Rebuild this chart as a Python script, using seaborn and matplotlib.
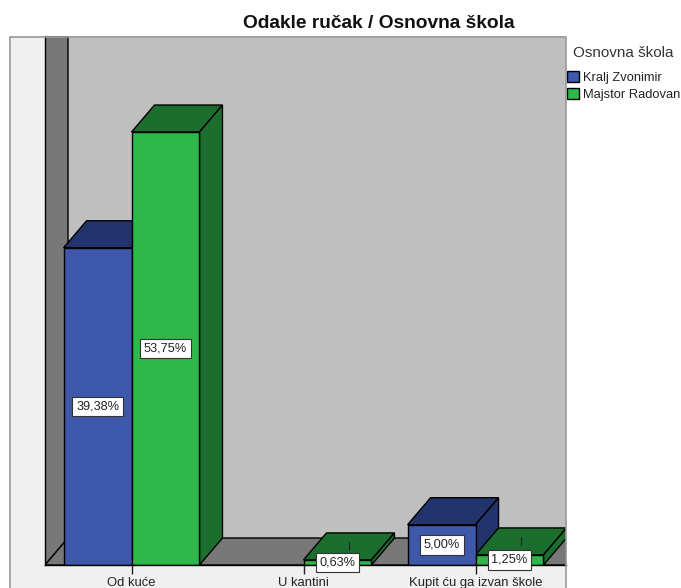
import matplotlib
matplotlib.use("Agg")
import matplotlib.pyplot as plt
from matplotlib.patches import Polygon, Rectangle
from matplotlib.lines import Line2D
import numpy as np
import pandas as pd
import seaborn as sns

# data
kategorije = ["Od kuće", "U kantini", "Kupit ću ga izvan škole"]
kralj_zvonimir = [39.38, np.nan, 5.00]
majstor_radovan = [53.75, 0.63, 1.25]
skole = ["Kralj Zvonimir", "Majstor Radovan"]

df = pd.DataFrame({
    "odakle": kategorije * 2,
    "skola": [skole[0]] * 3 + [skole[1]] * 3,
    "postotak": kralj_zvonimir + majstor_radovan,
})

# colours
PLAVA, PLAVA_T = "#3E58AC", "#22346B"
ZELENA, ZELENA_T = "#2EB84A", "#1C6E2E"
ZID, BOK, SVIJETLA = "#BFBFBF", "#787878", "#F0F0F0"

W, H = 681, 588
sns.set_style("white")
plt.rcParams["font.family"] = ["Liberation Sans", "DejaVu Sans"]

fig = plt.figure(figsize=(W / 100, H / 100), dpi=100)
ax = fig.add_axes([45 / W, (H - 565) / H, (566 - 45) / W, (565 - 36) / H])
ax.set_facecolor(ZID)

sns.barplot(data=df, x="odakle", y="postotak", hue="skola", hue_order=skole,
            order=kategorije, palette=[PLAVA, ZELENA], saturation=1, width=0.79,
            gap=0, edgecolor="black", linewidth=1.0, errorbar=None, ax=ax, zorder=3)

ax.set_xlim(-0.503, 2.526)
ax.set_ylim(0, 65.67)
ax.set_xlabel("")
ax.set_ylabel("")
ax.set_yticks([])
ax.tick_params(axis="x", length=6.5, width=1, color="#222222", pad=2,
               labelsize=9.4, labelcolor="#222222", bottom=True)
for s in ["top", "right"]:
    ax.spines[s].set_visible(False)
for s in ["left", "bottom"]:
    ax.spines[s].set_color("black")
    ax.spines[s].set_linewidth(1.0)
    ax.spines[s].set_zorder(4)

# 3D depth, pixels -> data units
dx = 23 / 172
dy = 27 / (529 / 65.67)
x0, x1 = ax.get_xlim()
y1 = ax.get_ylim()[1]

# back walls and floor
ax.add_patch(Polygon([(x0, 0), (x0 + dx, dy), (x0 + dx, y1), (x0, y1)], fc=BOK, ec="black", lw=1, zorder=1))
ax.add_patch(Polygon([(x0, 0), (x0 + dx, dy), (x1, dy), (x1, 0)], fc=BOK, ec="black", lw=1, zorder=1))

# top and side faces, labels
tamne = [PLAVA_T, ZELENA_T]
for i, cont in enumerate(ax.containers):
    for bar in cont:
        v = bar.get_height()
        if not np.isfinite(v):
            continue
        a, b = bar.get_x(), bar.get_x() + bar.get_width()
        ax.add_patch(Polygon([(a, v), (b, v), (b + dx, v + dy), (a + dx, v + dy)],
                             fc=tamne[i], ec="black", lw=1, zorder=2 + i * 0.5))
        ax.add_patch(Polygon([(b, 0), (b, v), (b + dx, v + dy), (b + dx, dy)],
                             fc=tamne[i], ec="black", lw=1, zorder=2 + i * 0.5))
        sred = (a + b) / 2
        if v < 2:
            # short leader up to the top face
            ax.plot([sred + dx / 2, sred + dx / 2], [v + dy * 0.35, v + dy * 0.65],
                    color="#222222", lw=0.8, zorder=2.8)
        ax.text(sred, v / 2, f"{v:.2f}%".replace(".", ","), ha="center", va="center",
                fontsize=9.2, color="#222222", zorder=6, clip_on=False,
                bbox=dict(boxstyle="square,pad=0.3", fc="white", ec="#333333", lw=0.8))

# light panel and outer frame
fig.add_artist(Rectangle((9 / W, 0), 36 / W, (H - 36) / H, fc=SVIJETLA, ec="none", zorder=-2))
fig.add_artist(Rectangle((9 / W, 0), (566 - 9) / W, (H - 565) / H, fc=SVIJETLA, ec="none", zorder=-2))
fig.add_artist(Line2D([9.5 / W, 9.5 / W, 566 / W, 566 / W],
                      [0, (H - 36.5) / H, (H - 36.5) / H, 0], color="#9A9A9A", lw=1.2, zorder=5))

fig.text(378.5 / W, (H - 23) / H, "Odakle ručak / Osnovna škola", ha="center", va="center",
         fontsize=13.8, fontweight="bold", color="#111111")

sns.move_legend(ax, "upper left", bbox_to_anchor=(567 / W, (H - 46) / H),
                bbox_transform=fig.transFigure, title="Osnovna škola", frameon=False,
                fontsize=9.3, title_fontsize=11, handlelength=0.95, handleheight=0.9,
                handletextpad=0.3, labelspacing=0.3, borderpad=0, borderaxespad=0,
                alignment="center")
leg = ax.get_legend()
leg.set_zorder(10)
leg._legend_box.sep = 8
leg.get_title().set_color("#333333")
for t in leg.get_texts():
    t.set_color("#222222")

fig.savefig("out.png", dpi=100)
